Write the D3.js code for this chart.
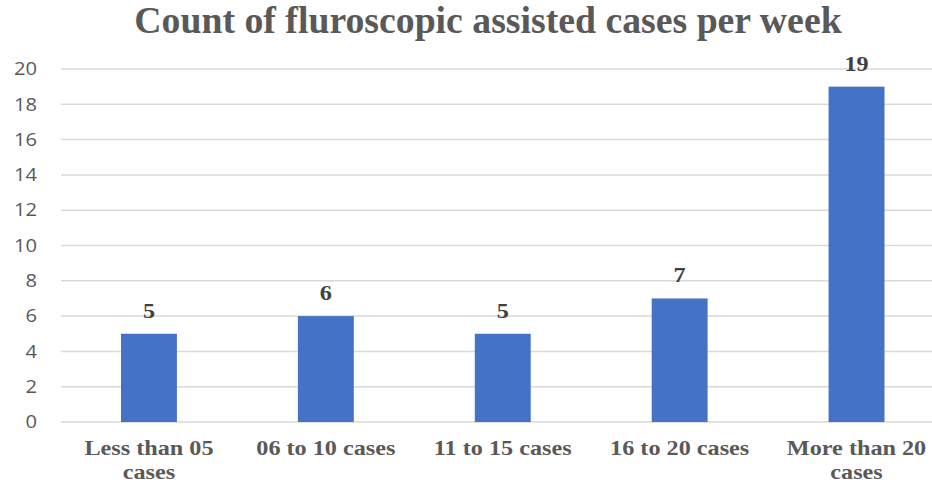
<!DOCTYPE html>
<html>
<head>
<meta charset="utf-8">
<script src="https://cdn.jsdelivr.net/npm/d3@7"></script>
<style>
  body { margin: 0; background: #fff; overflow: hidden; }
</style>
</head>
<body>
<script>
// chart data
var categories = [["Less than 05", "cases"], ["06 to 10 cases"], ["11 to 15 cases"], ["16 to 20 cases"], ["More than 20", "cases"]];
var counts = [5, 6, 5, 7, 19];
var yTicks = [0, 2, 4, 6, 8, 10, 12, 14, 16, 18, 20];
var title = "Count of fluroscopic assisted cases per week";

var width = 932, height = 483;
var serif = "'Liberation Serif', 'Times New Roman', serif";
var svg = d3.select("body").append("svg").attr("width", width).attr("height", height);

var x = d3.scaleBand().domain(d3.range(categories.length)).range([60.5, 945]).paddingInner(0.684).paddingOuter(0.342);
var y = d3.scaleLinear().domain([0, 20]).range([422, 69]);

// widen serif text a bit, the original looks stretched
function stretch(sel, f) {
    sel.each(function () {
        var len = this.getComputedTextLength();
        d3.select(this).attr("textLength", len * f).attr("lengthAdjust", "spacingAndGlyphs");
    });
}

svg.append("text").text(title)
    .attr("x", 488).attr("y", 33)
    .attr("text-anchor", "middle")
    .style("font-family", serif)
    .style("font-weight", "bold").style("font-size", "37px")
    .style("fill", "#595959")
    .call(stretch, 1.02);

// gridlines
svg.append("g").selectAll("line").data(yTicks).enter().append("line")
    .attr("x1", 61).attr("x2", 945)
    .attr("y1", function (d) { return y(d); }).attr("y2", function (d) { return y(d); })
    .style("stroke", "#d9d9d9").style("stroke-width", 1.5);

// y axis labels
var yAxis = d3.axisLeft(y).tickValues(yTicks).tickSize(0).tickPadding(0);
var ya = svg.append("g").attr("transform", "translate(37,0)").call(yAxis);
ya.select(".domain").remove();
ya.selectAll("text")
    .style("font-family", "'Open Sans', Carlito, sans-serif")
    .style("font-size", "18px").style("fill", "#595959")
    .call(stretch, 1.12);

// bars
svg.append("g").selectAll("rect").data(counts).enter().append("rect")
    .attr("x", function (d, i) { return x(i); })
    .attr("width", x.bandwidth())
    .attr("y", function (d) { return y(d); })
    .attr("height", function (d) { return y(0) - y(d); })
    .style("fill", "#4472c4");

// value labels
svg.append("g").selectAll("text").data(counts).enter().append("text")
    .text(function (d) { return d; })
    .attr("x", function (d, i) { return x(i) + x.bandwidth() / 2; })
    .attr("y", function (d) { return y(d) - 16; })
    .attr("text-anchor", "middle")
    .style("font-family", serif)
    .style("font-weight", "bold").style("font-size", "22px")
    .style("fill", "#404040")
    .call(stretch, 1.1);

// category labels
var cat = svg.append("g").selectAll("text").data(categories).enter().append("text")
    .attr("x", function (d, i) { return x(i) + x.bandwidth() / 2; })
    .attr("y", 455)
    .attr("text-anchor", "middle")
    .style("font-family", serif)
    .style("font-weight", "bold").style("font-size", "22px")
    .style("fill", "#595959");
cat.selectAll("tspan").data(function (d) { return d; }).enter().append("tspan")
    .attr("x", function () { return d3.select(this.parentNode).attr("x"); })
    .attr("dy", function (d, i) { return i === 0 ? 0 : 24; })
    .text(function (d) { return d; })
    .call(stretch, 1.1);
</script>
</body>
</html>
